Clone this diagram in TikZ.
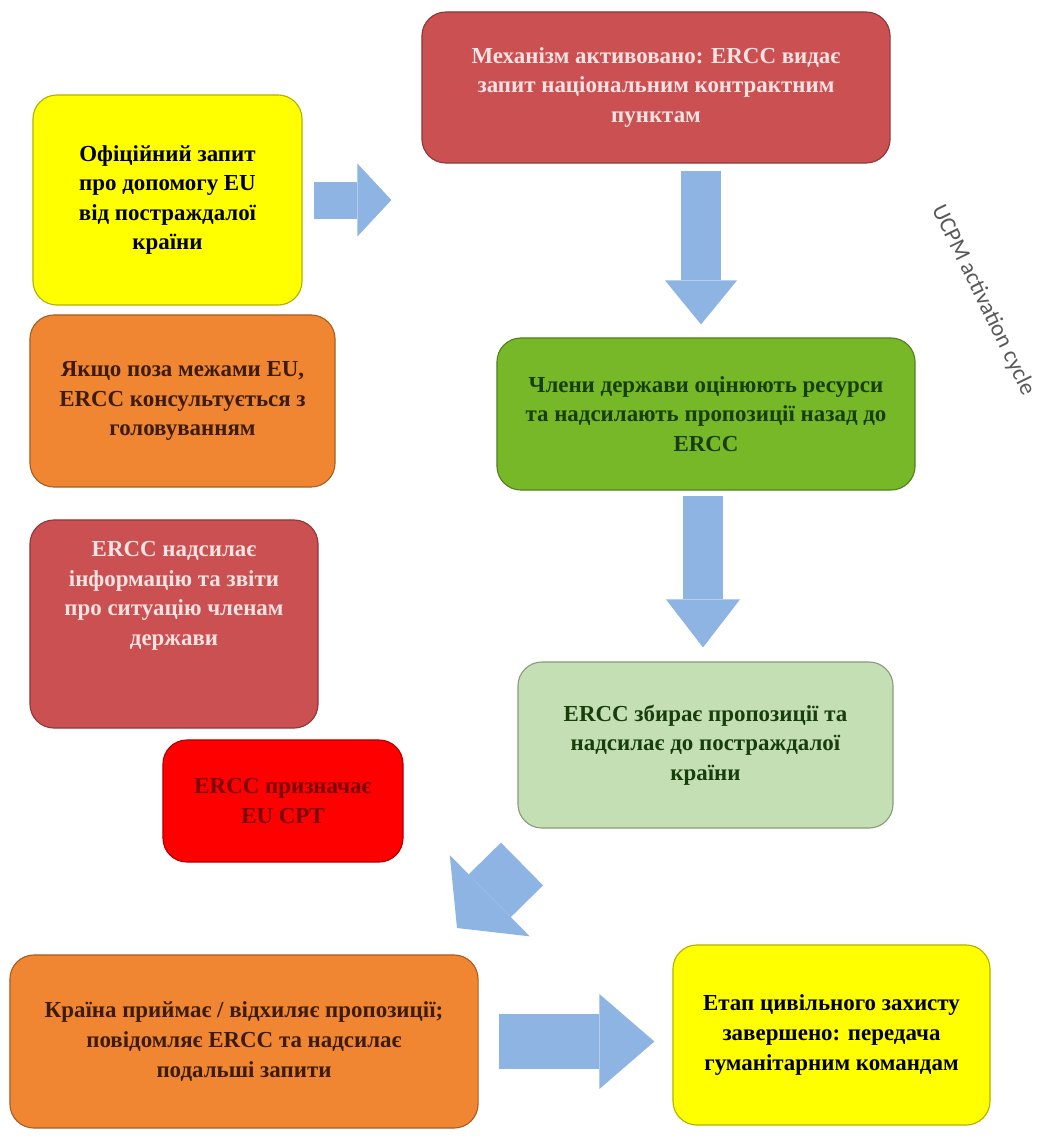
\documentclass[tikz,border=0pt]{standalone}
\usepackage{fontspec}
\setmainfont{Liberation Serif}
\newfontfamily\cyclefont{Carlito}
\usetikzlibrary{arrows.meta,calc}

\definecolor{boxred}{RGB}{203,80,81}
\definecolor{boxyellow}{RGB}{255,255,0}
\definecolor{boxorange}{RGB}{240,134,50}
\definecolor{boxgreen}{RGB}{118,184,40}
\definecolor{boxpale}{RGB}{196,223,180}
\definecolor{boxbright}{RGB}{255,0,0}
\definecolor{arrowblue}{RGB}{141,180,226}
\definecolor{palered}{RGB}{248,226,226}
\definecolor{darkbrown}{RGB}{60,28,8}
\definecolor{darkleaf}{RGB}{24,62,12}
\definecolor{darkred}{RGB}{120,0,0}

\begin{document}
\begin{tikzpicture}[x=0.025cm, y=-0.025cm,
    box/.style={fill=#1, draw=#1!70!black, line width=0.8pt, rounded corners=0.6cm,
        align=center, font=\bfseries\fontsize{16.3}{21}\selectfont},
    flow/.style args={#1/#2/#3}{draw=arrowblue, line width=#1,
        -{Triangle[width=#2, length=#3, line width=0pt]}}]

    \useasboundingbox[fill=white] (0,0) rectangle (1041,1140);

    % Boxes
    \node[box=boxred, text=palered, minimum width=11.7cm, minimum height=3.775cm]
        at (656, 87.5) (activation)
        {Механізм активовано: ERCC видає\\запит національним контрактним\\пунктам};
    \node[box=boxyellow, text=black, minimum width=6.725cm, minimum height=5.25cm]
        at (167.5, 200) (request)
        {Офіційний запит\\про допомогу EU\\від постраждалої\\країни};
    \node[box=boxorange, text=darkbrown, minimum width=7.625cm, minimum height=4.3cm]
        at (182.5, 401) (consult)
        {Якщо поза межами EU,\\ERCC консультується з\\головуванням};
    \node[box=boxred, minimum width=7.2cm, minimum height=5.2cm]
        at (174, 624) (info) {};
    \node[align=center, text=palered, font=\bfseries\fontsize{16.3}{21}\selectfont]
        at (174, 596) (infotext)
        {ERCC надсилає\\інформацію та звіти\\про ситуацію членам\\держави};
    \node[box=boxgreen, text=darkleaf, minimum width=10.45cm, minimum height=3.8cm]
        at (706, 414) (assess)
        {Члени держави оцінюють ресурси\\та надсилають пропозиції назад до\\ERCC};
    \node[box=boxpale, text=darkleaf, minimum width=9.375cm, minimum height=4.15cm]
        at (705.5, 745) (collect)
        {ERCC збирає пропозиції та\\надсилає до постраждалої\\країни};
    \node[box=boxbright, text=darkred, minimum width=6cm, minimum height=3.05cm]
        at (283, 801) (cpt)
        {ERCC призначає\\EU CPT};
    \node[box=boxorange, text=darkbrown, minimum width=11.7cm, minimum height=4.325cm]
        at (244, 1041.5) (accept)
        {Країна приймає / відхиляє пропозиції;\\повідомляє ERCC та надсилає\\подальші запити};
    \node[box=boxyellow, text=black, minimum width=7.925cm, minimum height=4.5cm]
        at (831.5, 1035) (done)
        {Етап цивільного захисту\\завершено: передача\\гуманітарним командам};

    \node[rotate=-64, text=black!65, font=\cyclefont\fontsize{16.5}{19}\selectfont]
        at (983, 300) (cycle) {UCPM activation cycle};

    % Arrows
    \coordinate (diagtail) at (522, 864);
    \coordinate (diagtip) at (457, 928);

    \draw[flow=0.925cm/1.825cm/0.85cm, shorten <=0.275cm, shorten >=0.75cm]
        (request.east) -- (request.east -| activation.west);
    \draw[flow=1cm/1.8cm/1.1cm, shorten <=0.175cm, shorten >=0.325cm]
        (activation.south -| 701, 0) -- (assess.north -| 701, 0);
    \draw[flow=1cm/1.85cm/1.2cm, shorten <=0.125cm, shorten >=0.35cm]
        (assess.south -| 703, 0) -- (collect.north -| 703, 0);
    \draw[flow=1.5cm/2.85cm/1.15cm] (diagtail) -- (diagtip);
    \draw[flow=1.375cm/2.375cm/1.375cm, shorten <=0.5cm, shorten >=0.45cm]
        (accept.east) -- (accept.east -| done.west);

\end{tikzpicture}
\end{document}
